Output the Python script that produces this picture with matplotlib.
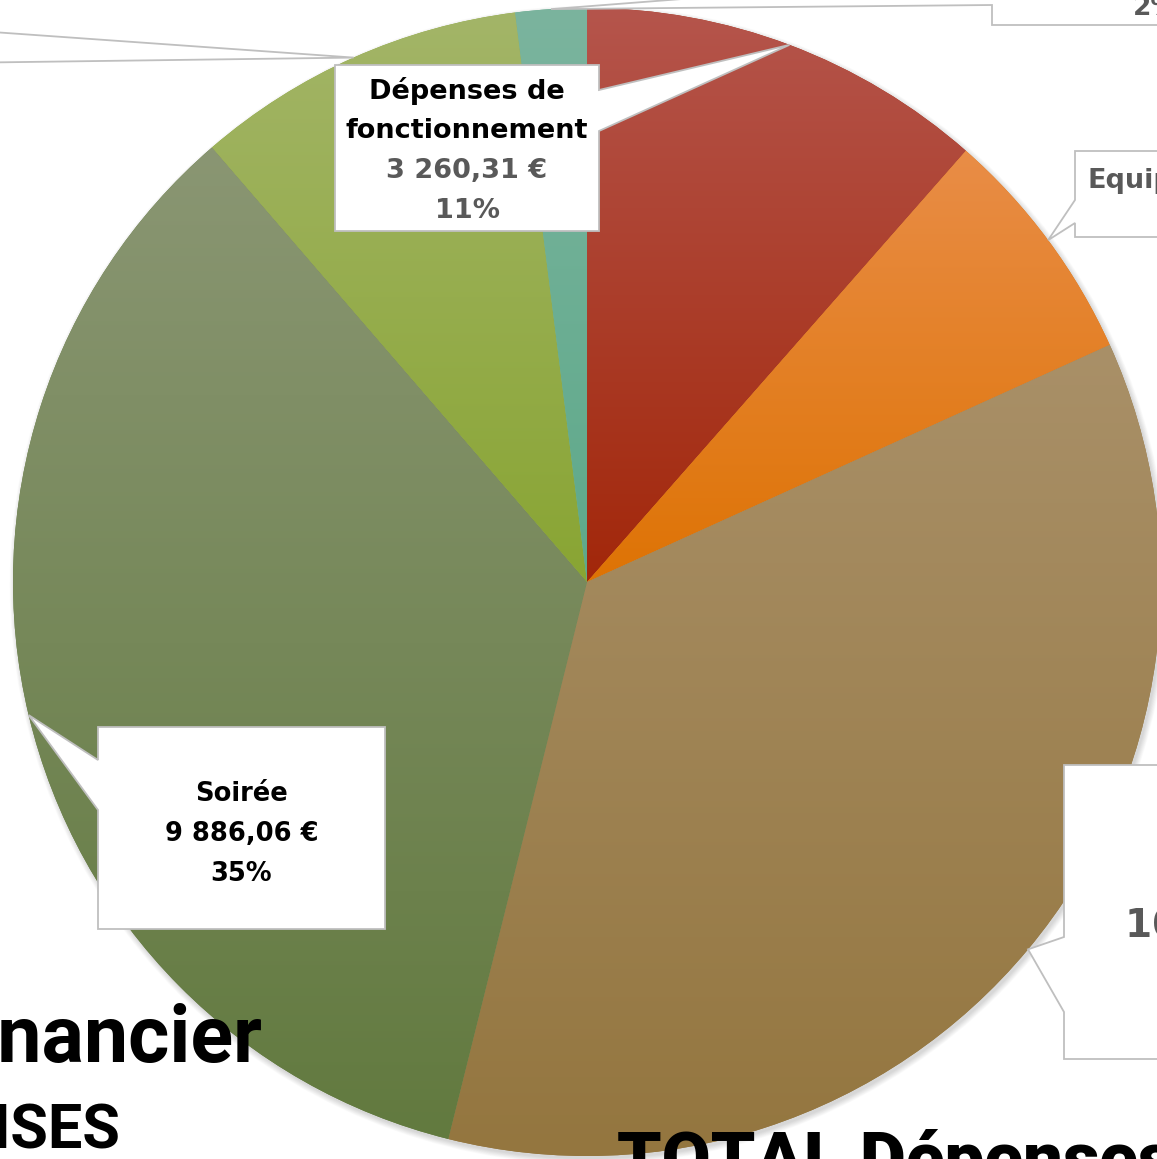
import numpy as np
import matplotlib
matplotlib.use('Agg')
import matplotlib.pyplot as plt
from matplotlib.colors import LinearSegmentedColormap
from matplotlib.patches import Polygon, Circle

W, H = 1157, 1159

# slices, clockwise from 12 o'clock
names = ['Dépenses de\nfonctionnement', 'Equipement', '', 'Soirée', '', '']
values = [3260.31, 1918.40, 10135.00, 9886.06, 2652.00, 568.00]
top_colors = ['#b5554c', '#e98d47', '#a99068', '#8a9673', '#a3b568', '#7bb49e']
bottom_colors = ['#a2270a', '#de7304', '#94763f', '#627a3f', '#89a533', '#5ea98a']


def euro(v):
    s = f"{v:,.2f}".replace(',', ' ').replace('.', ',')
    return s + ' €'


def pct(v):
    return f"{round(100 * v / sum(values))}%"


fig = plt.figure(figsize=(W / 100, H / 100), dpi=100)
ax = fig.add_axes([0, 0, 1, 1])

cx, cy, R = 587, H - 582, 574

# soft shadow under the pie
for k in range(10):
    ax.add_patch(Circle((cx + 2, cy - 3), R + k * 0.6, color='black',
                        alpha=0.015, lw=0, zorder=0))

wedges, _ = ax.pie(values, startangle=90, counterclock=False, center=(cx, cy),
                   radius=R, colors=bottom_colors, wedgeprops=dict(linewidth=0))

# vertical gradient in every slice
grad = np.linspace(0, 1, 256)[:, None]
for w, c_top, c_bot in zip(wedges, top_colors, bottom_colors):
    w.set_zorder(1)
    bb = w.get_path().get_extents()
    cmap = LinearSegmentedColormap.from_list('g', [c_bot, c_top])
    im = ax.imshow(grad, cmap=cmap, extent=(bb.x0, bb.x1, bb.y0, bb.y1),
                   origin='lower', aspect='auto', zorder=2)
    im.set_clip_path(w)


def tip_of(w):
    a = np.deg2rad((w.theta1 + w.theta2) / 2)
    return (cx + R * np.cos(a), cy + R * np.sin(a))


def callout(box, side, bases, tip):
    L, T, Rt, B = box
    b1, b2 = bases
    if side == 'left':
        pts = [(L, T), (Rt, T), (Rt, B), (L, B), (L, b2), None, (L, b1)]
    else:
        pts = [(L, T), (Rt, T), (Rt, b1), None, (Rt, b2), (Rt, B), (L, B)]
    xy = [tip if p is None else (p[0], H - p[1]) for p in pts]
    ax.add_patch(Polygon(xy, closed=True, facecolor='white', edgecolor='#bfbfbf',
                         lw=1.3, zorder=5, joinstyle='miter'))


# label boxes (pixel coords from the top-left corner)
callout((335, 65, 599, 231), 'right', (90, 131), tip_of(wedges[0]))
callout((1075, 151, 1500, 237), 'left', (200, 223), tip_of(wedges[1]))
callout((1064, 765, 1500, 1059), 'left', (937, 1012), tip_of(wedges[2]))
callout((98, 727, 385, 929), 'left', (760, 810), tip_of(wedges[3]))
callout((-500, -80, -50, 160), 'right', (29, 63), tip_of(wedges[4]))
callout((992, -80, 1500, 25), 'left', (-25, 5), tip_of(wedges[5]))

lab = dict(family='DejaVu Sans', weight='bold', ha='center', va='baseline', zorder=6)
grey = '#595959'

# Dépenses de fonctionnement
x0 = (335 + 599) / 2
for i, (txt, col) in enumerate(zip(names[0].split('\n') + [euro(values[0]), pct(values[0])],
                                   ['black', 'black', grey, grey])):
    ax.text(x0, H - (99 + 39.5 * i), txt, color=col, fontsize=19.5, **lab)

# Soirée
x0 = (98 + 385) / 2
for i, txt in enumerate([names[3], euro(values[3]), pct(values[3])]):
    ax.text(x0, H - (801 + 40 * i), txt, color='black', fontsize=18.5, **lab)

# labels cut by the right border
ax.text(1087, H - 188, names[1], color=grey, family='DejaVu Sans', weight='bold',
        fontsize=19.5, ha='left', va='baseline', zorder=6)
ax.text(1125, H - 937, euro(values[2]), color=grey, family='DejaVu Sans', weight='bold',
        fontsize=28, ha='left', va='baseline', zorder=6)
ax.text(1133, H - 15, pct(values[5]), color=grey, family='DejaVu Sans', weight='bold',
        fontsize=19, ha='left', va='baseline', zorder=6)

# slide titles behind the chart
ax.text(262, H - 1062, 'Bilan financier', color='black', family='Roboto',
        weight='bold', fontsize=57, ha='right', va='baseline', zorder=7)
ax.text(120, H - 1147, 'DÉPENSES', color='black', family='Roboto',
        weight='bold', fontsize=44, ha='right', va='baseline', zorder=7)
ax.text(617, H - 1182, 'TOTAL Dépenses : ' + euro(sum(values)), color='black',
        family='Roboto', weight='black', fontsize=51, ha='left', va='baseline', zorder=7)

ax.set_xlim(0, W)
ax.set_ylim(0, H)
ax.set_aspect('auto')
ax.axis('off')

fig.savefig('out.png', dpi=100)
